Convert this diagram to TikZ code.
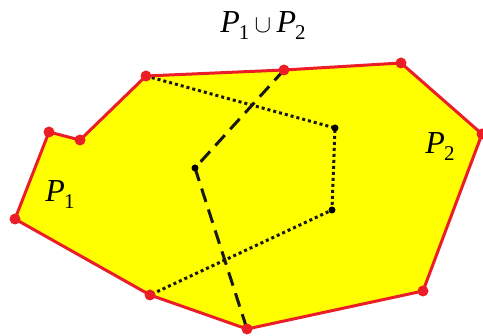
\documentclass[tikz,border=0pt]{standalone}
\usepackage{fontspec}
\setmainfont{Liberation Serif}
\definecolor{pred}{RGB}{235,30,40}
\definecolor{pyel}{RGB}{255,255,0}
\newcommand{\Psub}[1]{\textit{P}\kern-1pt\raisebox{-7pt}{\fontsize{21}{24}\selectfont #1}}
\begin{document}
\begin{tikzpicture}[x=1pt,y=-1pt,
  rdot/.style={circle,fill=pred,draw=none,minimum size=11pt,inner sep=0pt},
  bdot/.style={circle,fill=black,draw=none,minimum size=7pt,inner sep=0pt},
  edge/.style={draw=pred,line width=3pt,line join=round},
  dotline/.style={line width=3pt,dash pattern=on 3pt off 3pt,black!90},
  dashline/.style={line width=3pt,dash pattern=on 14pt off 8pt,black!90},
  lbl/.style={font=\fontsize{32}{36}\selectfont,inner sep=0pt}]
\useasboundingbox (0,0) rectangle (483,336);
\coordinate (A) at (146,76);
\coordinate (B) at (284,70);
\coordinate (C) at (401,63);
\coordinate (D) at (482,134);
\coordinate (E) at (423,291);
\coordinate (F) at (247,329);
\coordinate (G) at (150,295);
\coordinate (H) at (15,219);
\coordinate (I) at (49,132);
\coordinate (J) at (80,140);
\coordinate (K) at (335,128);
\coordinate (L) at (332,210);
\coordinate (M) at (195,168);
\fill[pyel] (A)--(B)--(C)--(D)--(E)--(F)--(G)--(H)--(I)--(J)--cycle;
\draw[dotline] (A)--(K)--(L)--(G);
\draw[dashline] (B)--(M)--(F);
\draw[edge] (A)--(B)--(C)--(D)--(E)--(F)--(G)--(H)--(I)--(J)--cycle;
\foreach \p in {A,B,C,D,E,F,G,H,I,J} \node[rdot] at (\p) {};
\foreach \p in {K,L,M} \node[bdot] at (\p) {};
\node[lbl] (t) at (263,26) {\Psub{1}\,$\cup$\,\Psub{2}};
\node[lbl] (p1) at (60,195) {\Psub{1}};
\node[lbl] (p2) at (440,147) {\Psub{2}};
\end{tikzpicture}
\end{document}
